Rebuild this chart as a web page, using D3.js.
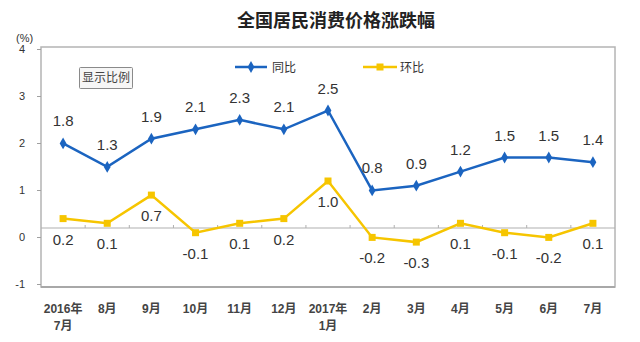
<!DOCTYPE html>
<html><head><meta charset="utf-8">
<script src="https://cdn.jsdelivr.net/npm/d3@7/dist/d3.min.js"></script>
<style>body{margin:0;background:#fff;} svg{display:block;font-family:"Liberation Sans",Arial,"Noto Sans CJK SC",sans-serif;}</style>
</head><body>
<script>
const categories = ["2016年\n7月","8月","9月","10月","11月","12月","2017年\n1月","2月","3月","4月","5月","6月","7月"];
const yoy = [1.8,1.3,1.9,2.1,2.3,2.1,2.5,0.8,0.9,1.2,1.5,1.5,1.4];
const mom = [0.2,0.1,0.7,-0.1,0.1,0.2,1.0,-0.2,-0.3,0.1,-0.1,-0.2,0.1];
const yTicks = [-1,0,1,2,3,4];
const seriesNames = ["同比","环比"];
const title = "全国居民消费价格涨跌幅";

const W=640,H=342;
const L=41,R=615,T=47,B=287;
const blue="#1b64c0", yellow="#f6c500";
const svg=d3.select("body").append("svg").attr("width",W).attr("height",H);

const x=d3.scaleBand().domain(categories).range([L,R]);
const y=d3.scaleLinear().domain([-1,4]).range([275,40]);
const cx=c=>x(c)+x.bandwidth()/2;
const fmt=d=>d.toFixed(1);

// title
svg.append("text").attr("x",336).attr("y",27).attr("text-anchor","middle")
  .attr("font-family","'Noto Sans CJK SC',sans-serif").attr("font-size",18).attr("font-weight","bold").attr("fill","#222").text(title);

// frame
svg.append("rect").attr("x",L).attr("y",T).attr("width",R-L).attr("height",B-T)
  .attr("fill","none").attr("stroke","#b4b4b4").attr("stroke-width",1.5);
svg.append("line").attr("x1",L).attr("x2",R).attr("y1",B).attr("y2",B).attr("stroke","#a8a8a8").attr("stroke-width",2);

// y axis (labels drawn 9px lower as in reference)
const ya=svg.append("g").attr("transform",`translate(${L},9)`)
  .call(d3.axisLeft(y).tickValues(yTicks).tickSize(4).tickPadding(12).tickFormat(d=>String(d)));
ya.select(".domain").remove();
ya.selectAll("line").attr("stroke","#a0a0a0");
ya.selectAll("text").attr("font-size",11).attr("fill","#333").attr("font-family","'Liberation Sans',Arial,sans-serif");
svg.append("text").attr("x",16).attr("y",42).attr("font-size",11).attr("fill","#333").text("(%)");

// zero baseline with category ticks
svg.append("line").attr("x1",L).attr("x2",R).attr("y1",y(0)).attr("y2",y(0)).attr("stroke","#b0b0b0").attr("stroke-width",1.2);
svg.append("g").selectAll("line").data(categories.slice(1)).join("line")
  .attr("x1",d=>x(d)).attr("x2",d=>x(d)).attr("y1",y(0)-3).attr("y2",y(0))
  .attr("stroke","#b0b0b0");

// x labels
const xl=svg.append("g").selectAll("text").data(categories).join("text")
  .attr("x",d=>cx(d)).attr("y",313).attr("text-anchor","middle")
  .attr("font-size",12).attr("font-weight","bold").attr("fill","#444")
  .attr("font-family","'Liberation Sans','Noto Sans CJK SC',sans-serif");
xl.each(function(d){
  const parts=d.split("\n");
  d3.select(this).selectAll("tspan").data(parts).join("tspan")
    .attr("x",cx(d)).attr("dy",(p,i)=>i?17:0).text(p=>p);
});

const line=d3.line().x((d,i)=>cx(categories[i])).y(d=>y(d));
// mom series
svg.append("path").datum(mom).attr("d",line).attr("fill","none").attr("stroke",yellow).attr("stroke-width",2.5);
svg.append("g").selectAll("rect").data(mom).join("rect")
  .attr("x",(d,i)=>cx(categories[i])-3.5).attr("y",d=>y(d)-3.5).attr("width",7).attr("height",7).attr("fill",yellow);
// yoy series
svg.append("path").datum(yoy).attr("d",line).attr("fill","none").attr("stroke",blue).attr("stroke-width",2.5);
const diamond=d3.symbol().type(d3.symbolDiamond).size(40);
svg.append("g").selectAll("path").data(yoy).join("path")
  .attr("d",diamond).attr("transform",(d,i)=>`translate(${cx(categories[i])},${y(d)})`).attr("fill",blue);

// labels
svg.append("g").selectAll("text").data(yoy).join("text")
  .attr("x",(d,i)=>cx(categories[i])).attr("y",d=>y(d)-17).attr("text-anchor","middle")
  .attr("font-size",15).attr("fill","#333").text(fmt);
svg.append("g").selectAll("text").data(mom).join("text")
  .attr("x",(d,i)=>cx(categories[i])).attr("y",d=>y(d)+26).attr("text-anchor","middle")
  .attr("font-size",15).attr("fill","#333").text(fmt);

// legend
const lg=svg.append("g");
lg.append("line").attr("x1",235).attr("x2",267).attr("y1",67).attr("y2",67).attr("stroke",blue).attr("stroke-width",2.5);
lg.append("path").attr("d",diamond).attr("transform","translate(251,67)").attr("fill",blue);
lg.append("text").attr("x",272).attr("y",71.5).attr("font-size",12).attr("fill","#333")
  .attr("font-family","'Noto Sans CJK SC',sans-serif").text(seriesNames[0]);
lg.append("line").attr("x1",363).attr("x2",397).attr("y1",67).attr("y2",67).attr("stroke",yellow).attr("stroke-width",2.5);
lg.append("rect").attr("x",376.5).attr("y",63.5).attr("width",7).attr("height",7).attr("fill",yellow);
lg.append("text").attr("x",400).attr("y",71.5).attr("font-size",12).attr("fill","#333")
  .attr("font-family","'Noto Sans CJK SC',sans-serif").text(seriesNames[1]);

// button
svg.append("rect").attr("x",79.5).attr("y",67.5).attr("width",53).attr("height",21).attr("fill","#f6f6f6").attr("stroke","#8a8a8a").attr("rx",1);
svg.append("text").attr("x",106).attr("y",82).attr("text-anchor","middle").attr("font-size",12).attr("fill","#444")
  .attr("font-family","'Noto Sans CJK SC',sans-serif").text("显示比例");
</script>
</body></html>
